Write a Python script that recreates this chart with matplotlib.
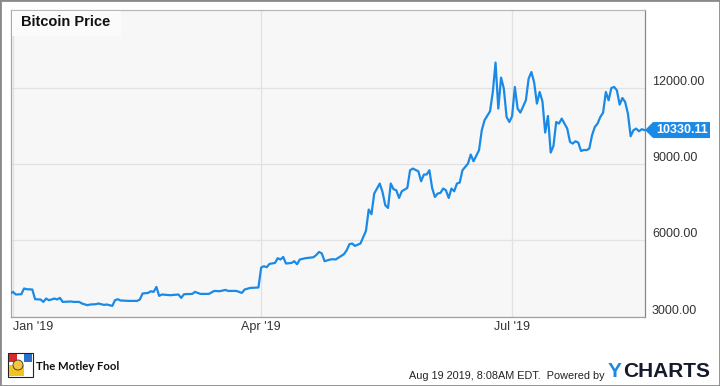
import matplotlib
matplotlib.use('Agg')
import matplotlib.pyplot as plt
import matplotlib.dates as mdates
from matplotlib.patches import Rectangle, Polygon, Circle
from matplotlib.transforms import IdentityTransform
import datetime as dt

plt.rcParams['font.family'] = ['Liberation Sans', 'DejaVu Sans']

# ---- data (day offsets from Jan 1 2019, prices in USD) ----
start = dt.datetime(2019, 1, 1)
day_offsets = [-1, 0, 1, 3, 4, 5, 7, 8, 10, 11, 12, 13, 14, 15, 16, 17, 18, 21, 22, 24,
               25, 27, 28, 30, 31, 33, 34, 36, 37, 38, 39, 42, 45, 46, 47, 49, 50, 51, 52, 53,
               54, 57, 60, 61, 62, 65, 66, 68, 71, 73, 75, 77, 78, 81, 83, 84, 86, 89, 90, 91,
               92, 93, 95, 96, 97, 98, 99, 101, 102, 103, 104, 106, 109, 110, 111, 112, 113, 115, 116, 117,
               119, 120, 121, 122, 123, 124, 126, 128, 129, 130, 131, 133, 134, 135, 136, 137, 138, 139, 140, 141,
               143, 144, 145, 147, 148, 149, 150, 151, 152, 153, 154, 155, 156, 157, 158, 159, 160, 161, 162, 163,
               165, 166, 167, 169, 170, 171, 173, 174, 175, 176, 177, 178, 179, 180, 181, 182, 183, 184, 186, 187,
               188, 189, 190, 191, 192, 193, 194, 195, 196, 197, 198, 199, 200, 201, 202, 203, 204, 205, 206, 207,
               208, 209, 210, 211, 212, 213, 214, 215, 216, 217, 218, 219, 220, 221, 222, 223, 224, 225, 226, 227,
               228, 229]
prices = [3904, 3967, 3865, 3876, 4100, 4073, 4061, 3680, 3668, 3574, 3707, 3641, 3668, 3707, 3668, 3731, 3574, 3590, 3574, 3574,
          3511, 3444, 3472, 3483, 3511, 3456, 3472, 3417, 3641, 3680, 3629, 3613, 3613, 3668, 3904, 3927, 3994, 3967, 4163, 3810,
          3865, 3837, 3865, 3731, 3876, 3888, 3967, 3888, 3888, 4006, 3994, 4045, 4006, 4006, 3927, 4061, 4124, 4140, 4926, 4977,
          4938, 5067, 5106, 5291, 5240, 5342, 5083, 5106, 5173, 5055, 5240, 5291, 5330, 5421, 5539, 5476, 5173, 5240, 5252, 5240,
          5382, 5448, 5600, 5841, 5869, 5775, 5869, 6364, 7205, 7020, 7834, 8227, 7897, 7374, 7268, 8227, 8003, 7964, 7661, 7924,
          8054, 8750, 8816, 8710, 8317, 8581, 8581, 8750, 8054, 7700, 7834, 7858, 8030, 7964, 7661, 8030, 7924, 8227, 8266, 8750,
          9013, 9367, 9103, 9536, 10321, 10714, 11068, 11827, 12982, 11174, 12392, 11960, 10844, 10648, 10872, 12024, 11174, 11017, 11500, 12353,
          12612, 12200, 11371, 11827, 11461, 10231, 10884, 9445, 9704, 10648, 10585, 10781, 10585, 10388, 9862, 9799, 9889, 9838, 9508, 9547,
          9540, 9602, 10125, 10451, 10585, 10844, 11017, 11827, 11500, 11984, 12024, 11894, 11332, 11591, 11434, 10978, 10086, 10321, 10388, 10282,
          10361, 10330.11]
dates = [start + dt.timedelta(days=d) for d in day_offsets]

tick_dates = [dt.datetime(2019, 1, 1), dt.datetime(2019, 4, 1), dt.datetime(2019, 7, 1)]
tick_labels = ["Jan '19", "Apr '19", "Jul '19"]
y_ticks = [3000, 6000, 9000, 12000]
title = "Bitcoin Price"
footer_date = "Aug 19 2019, 8:08AM EDT.  Powered by"

# ---- figure ----
W, H = 720, 386
fig = plt.figure(figsize=(W / 100, H / 100), dpi=100, facecolor='white')
ax = fig.add_axes([11 / W, 1 - 316.5 / H, 634 / W, 306.5 / H])
ax.set_facecolor('#f7f7f7')

line_color = '#1a8ae6'
ax.plot(dates, prices, color=line_color, lw=1.6, solid_joinstyle='round', zorder=3)

ax.set_xlim(start - dt.timedelta(days=0.73), start + dt.timedelta(days=229.2))
ax.set_ylim(3000, 15050)

ax.set_xticks(tick_dates)
ax.set_xticklabels(tick_labels)
ax.get_xticklabels()[0].set_horizontalalignment('left')
ax.yaxis.tick_right()
ax.set_yticks(y_ticks)
ax.set_yticklabels([f'{v:.2f}' for v in y_ticks])
ax.tick_params(axis='both', length=0, labelsize=9, labelcolor='#333333')
ax.tick_params(axis='y', pad=5)
ax.tick_params(axis='x', pad=3)
for lab in ax.get_yticklabels():
    lab.set_verticalalignment('bottom')

ax.grid(True, color='#e2e2e2', lw=0.9)
ax.set_axisbelow(True)
for side, col in [('left', '#a8a8a8'), ('top', '#b8b8b8'), ('bottom', '#a0a0a0'), ('right', '#888888')]:
    ax.spines[side].set_color(col)
    ax.spines[side].set_linewidth(0.9)

# title box
fig.add_artist(Rectangle((12, H - 36), 109, 25, transform=IdentityTransform(),
                         facecolor='#fbfbfb', edgecolor='none', zorder=2))
fig.text(21 / W, 1 - 22 / H, title, fontsize=10.5, weight='bold', color='#111111',
         va='center', ha='left', zorder=3)

# last value label
last_price = prices[-1]
px, py = ax.transData.transform((mdates.date2num(start + dt.timedelta(days=229.2)), last_price))
tip = 645
fig.add_artist(Polygon([(tip, py), (tip + 8, py + 8), (710, py + 8), (710, py - 8), (tip + 8, py - 8)],
                       closed=True, transform=IdentityTransform(), facecolor=line_color,
                       edgecolor='none', zorder=4))
fig.text(682 / W, py / H, f'{last_price:.2f}', color='white', weight='bold', fontsize=9,
         ha='center', va='center', zorder=5)

# Motley Fool logo (simplified)
lx, ly = 8, H - 377
fig.add_artist(Rectangle((lx, ly), 25, 24, transform=IdentityTransform(),
                         facecolor='white', edgecolor='#222222', lw=0.8, zorder=2))
fig.add_artist(Rectangle((lx + 1, ly + 1), 15, 11, transform=IdentityTransform(),
                         facecolor='#f2c320', edgecolor='none', zorder=3))
fig.add_artist(Rectangle((lx + 1, ly + 15), 8, 8, transform=IdentityTransform(),
                         facecolor='#d62b2b', edgecolor='none', zorder=3))
fig.add_artist(Rectangle((lx + 16, ly + 15), 8, 8, transform=IdentityTransform(),
                         facecolor='#2a6fc9', edgecolor='none', zorder=3))
fig.add_artist(Circle((lx + 10, ly + 12), 5, transform=IdentityTransform(),
                      facecolor='#f5c542', edgecolor='#333333', lw=0.6, zorder=4))
fig.text(36 / W, 1 - 366 / H, "The Motley Fool", fontsize=8.2, color='#111111',
         family=['Lato', 'DejaVu Sans'], weight='bold', va='center', ha='left')

# footer right
ty = fig.text(608 / W, 1 - 377 / H, "Y", fontsize=15, weight='bold', color=line_color,
              ha='left', va='baseline')
ax.annotate("CHARTS", xy=(1, 0), xycoords=ty, xytext=(0.5, 0), textcoords='offset points',
            fontsize=15, weight='bold', color='#151a2a', ha='left', va='bottom',
            annotation_clip=False)
ax.annotate(footer_date, xy=(0, 0), xycoords=ty, xytext=(-2.5, 0), textcoords='offset points',
            fontsize=7.8, color='#222222', ha='right', va='bottom', annotation_clip=False)

# outer frame
fig.add_artist(Rectangle((0, 0), 1, 1, transform=fig.transFigure, fill=False,
                         edgecolor='#8a8a8a', lw=2, zorder=10))

fig.savefig('out.png', dpi=100)
